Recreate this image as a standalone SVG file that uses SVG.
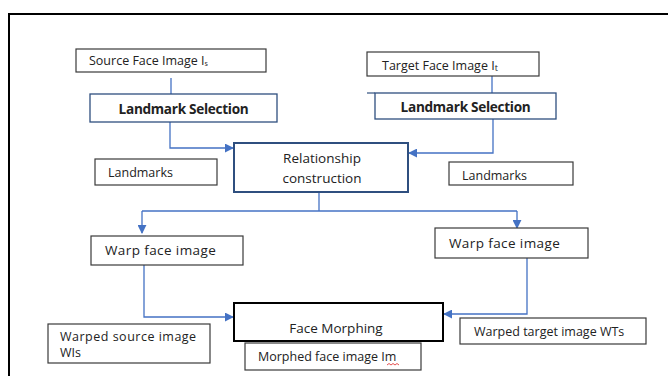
<svg xmlns="http://www.w3.org/2000/svg" width="668" height="376" viewBox="0 0 668 376">
<defs>
<style>
.box{fill:#fff;stroke:#3a3a3a;stroke-width:1.2}
.bbox{fill:#fff;stroke:#2f4f7f;stroke-width:1.3}
.thick{fill:#fff;stroke:#2f4f7f;stroke-width:2}
.black{fill:#fff;stroke:#000;stroke-width:2}
.t{font-family:"Open Sans","Liberation Sans",sans-serif;font-size:12.5px;fill:#222}
.m{font-family:"Open Sans","Liberation Sans",sans-serif;font-size:13.5px;fill:#222}
.b{font-family:"Open Sans","Liberation Sans",sans-serif;font-size:13.6px;font-weight:bold;fill:#222}
.c{fill:none;stroke:#4472c4;stroke-width:1.3}
</style>
<marker id="ah" viewBox="0 0 10 10" refX="9" refY="5" markerWidth="9" markerHeight="9" markerUnits="userSpaceOnUse" orient="auto"><path d="M0,0 L10,5 L0,10 Z" fill="#4472c4"/></marker>
</defs>
<rect width="668" height="376" fill="#fff"/>
<rect x="9" y="14" width="680" height="380" fill="none" stroke="#000" stroke-width="2"/>
<g id="connectors">
<path class="c" d="M171,78 V95"/>
<path class="c" d="M170,122 V148 H233" marker-end="url(#ah)"/>
<path class="c" d="M492,76 V93"/>
<path class="c" d="M493,119 V153 H409" marker-end="url(#ah)"/>
<path class="c" d="M319,192 V211"/>
<path class="c" d="M142,211 H517"/>
<path class="c" d="M142,211 V233" marker-end="url(#ah)"/>
<path class="c" d="M517,211 V228" marker-end="url(#ah)"/>
<path class="c" d="M144,265 V317 H233" marker-end="url(#ah)"/>
<path class="c" d="M527,258 V314 H444" marker-end="url(#ah)"/>
</g>
<g id="source">
<rect class="box" x="76" y="49" width="190" height="23"/>
<text class="t" x="89" y="65" font-size="11.4">Source Face Image I<tspan font-size="7" dy="1">s</tspan></text>
</g>
<g id="target">
<rect class="box" x="367" y="52" width="172" height="24"/>
<text class="t" x="382" y="70" font-size="12.6">Target Face Image I<tspan font-size="9" dy="1">t</tspan></text>
</g>
<g id="lmsel-left">
<rect class="bbox" x="90" y="94" width="187" height="28"/>
<text class="b" x="183.5" y="114" text-anchor="middle" letter-spacing="-0.3">Landmark Selection</text>
</g>
<g id="lmsel-right">
<path d="M367,93 H375" stroke="#2f4f7f" stroke-width="1.2"/>
<rect class="bbox" x="375" y="93" width="181" height="26"/>
<text class="b" x="465.5" y="112" text-anchor="middle" letter-spacing="-0.3">Landmark Selection</text>
</g>
<g id="relationship">
<rect class="thick" x="234" y="143" width="174" height="49"/>
<text class="m" x="322" y="163" text-anchor="middle" font-size="14.2">Relationship</text>
<text class="m" x="322" y="183" text-anchor="middle" font-size="14.2">construction</text>
</g>
<g id="landmarks-left">
<rect class="box" x="95" y="159" width="122" height="26"/>
<text class="t" x="108" y="177">Landmarks</text>
</g>
<g id="landmarks-right">
<rect class="box" x="449" y="162" width="124" height="23"/>
<text class="t" x="462" y="180">Landmarks</text>
</g>
<g id="warp-left">
<rect class="box" x="91" y="236" width="152" height="29"/>
<text class="m" x="105" y="255" letter-spacing="0.4">Warp face image</text>
</g>
<g id="warp-right">
<rect class="box" x="435" y="228" width="153" height="30"/>
<text class="m" x="449" y="248" letter-spacing="0.4">Warp face image</text>
</g>
<g id="face-morphing">
<rect class="black" x="234" y="303" width="209" height="38"/>
<text class="m" x="336" y="333" text-anchor="middle" font-size="13.8">Face Morphing</text>
</g>
<g id="warped-source">
<rect class="box" x="48" y="324" width="162" height="39"/>
<text class="t" x="60" y="341" font-size="11.8" letter-spacing="0.5">Warped source image</text>
<text class="t" x="60" y="357" font-size="11.8">WIs</text>
</g>
<g id="morphed">
<rect class="box" x="245" y="343" width="176" height="27"/>
<text class="t" x="258" y="361" font-size="12.7">Morphed face image Im</text>
<path d="M387,365 l2,-1.5 l2,1.5 l2,-1.5 l2,1.5 l2,-1.5 l2,1.5" fill="none" stroke="#d22" stroke-width="0.8"/>
</g>
<g id="warped-target">
<rect class="box" x="460" y="318" width="186" height="26"/>
<text class="t" x="474" y="336" font-size="13">Warped target image WTs</text>
</g>
</svg>
